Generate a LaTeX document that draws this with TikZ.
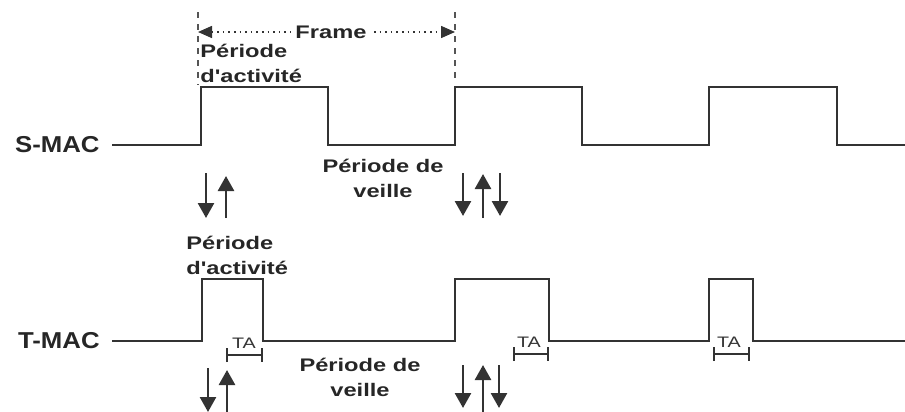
\documentclass[tikz,border=0pt]{standalone}
\usepackage{fontspec}
\newfontfamily\lblfont[FakeStretch=1.3]{Liberation Sans}
\newfontfamily\macfont[FakeStretch=1.12]{Liberation Sans}
\usepackage{tikz}
\usetikzlibrary{
  arrows.meta,
  positioning
}
\definecolor{sigline}{HTML}{333333}
\definecolor{dashgray}{HTML}{555555}

\begin{document}
\begin{tikzpicture}[
  x=0.5pt, y=-0.5pt,
  signal/.style={draw=sigline, line width=1pt},
  evarrow/.style={-{Triangle[width=8pt, length=7.5pt]}, line width=1.3pt, draw=sigline, fill=black},
  period/.style={font=\lblfont\bfseries\fontsize{9.1}{12.5}\selectfont, inner sep=0pt, text=black!85},
  maclabel/.style={font=\macfont\bfseries\fontsize{11.5}{13}\selectfont, inner sep=0pt, anchor=east, text=black!85},
  talabel/.style={font=\lblfont\fontsize{7.6}{8}\selectfont, inner sep=0pt, text=black!80},
  tabar/.style={{Bar[width=7pt]}-{Bar[width=7pt]}, line width=0.9pt, draw=sigline},
  framebar/.style={dashed, line width=0.9pt, draw=dashgray},
]
\useasboundingbox (0,0) rectangle (905,412);

% signal names
\node[maclabel] (smac) at (100,145) {S-MAC};
\node[maclabel] (tmac) at (100,341) {T-MAC};

% S-MAC schedule
\draw[signal] (112,145) -- (201,145) -- (201,87) -- (328,87) -- (328,145)
  -- (455,145) -- (455,87) -- (582,87) -- (582,145)
  -- (709,145) -- (709,87) -- (837,87) -- (837,145) -- (905,145);

% T-MAC schedule
\draw[signal] (112,341) -- (202,341) -- (202,279) -- (263,279) -- (263,341)
  -- (455,341) -- (455,279) -- (549,279) -- (549,341)
  -- (709,341) -- (709,279) -- (753,279) -- (753,341) -- (905,341);

% frame
\coordinate (fstart) at (198,32);
\coordinate (fend) at (455,32);
\draw[framebar] (198,12) -- (198,85);
\draw[framebar] (455,12) -- (455,80);
\draw[dotted, line width=0.8pt, draw=sigline,
  {Triangle[width=6pt, length=7pt]}-{Triangle[width=6pt, length=7pt]}] (fstart) -- (fend);
\node[period, fill=white, inner xsep=2pt, inner ysep=1pt] (frame) at (331,32) {Frame};

% periods
\node[period, align=left, anchor=west] (sact) at (200,63.5) {Période\\d'activité};
\node[period, align=center] (sveille) at (383,178) {Période de\\veille};
\node[period, align=left, anchor=west] (tact) at (186,255) {Période\\d'activité};
\node[period, align=center] (tveille) at (360,377) {Période de\\veille};

% TA intervals
\draw[tabar] (226,355) -- (263,355);
\draw[tabar] (513,354) -- (549,354);
\draw[tabar] (713,354) -- (750,354);
\node[talabel] (ta1) at (244,343) {TA};
\node[talabel] (ta2) at (529,342) {TA};
\node[talabel] (ta3) at (729,342) {TA};

% transmissions
\draw[evarrow] (206,173) -- (206,218);
\draw[evarrow] (226,218) -- (226,176);
\draw[evarrow] (463,173) -- (463,216);
\draw[evarrow] (483,218) -- (483,174);
\draw[evarrow] (500,173) -- (500,216);

\draw[evarrow] (208,368) -- (208,412);
\draw[evarrow] (227,412) -- (227,370);
\draw[evarrow] (463,365) -- (463,408);
\draw[evarrow] (483,412) -- (483,365);
\draw[evarrow] (499,365) -- (499,408);

\end{tikzpicture}
\end{document}
